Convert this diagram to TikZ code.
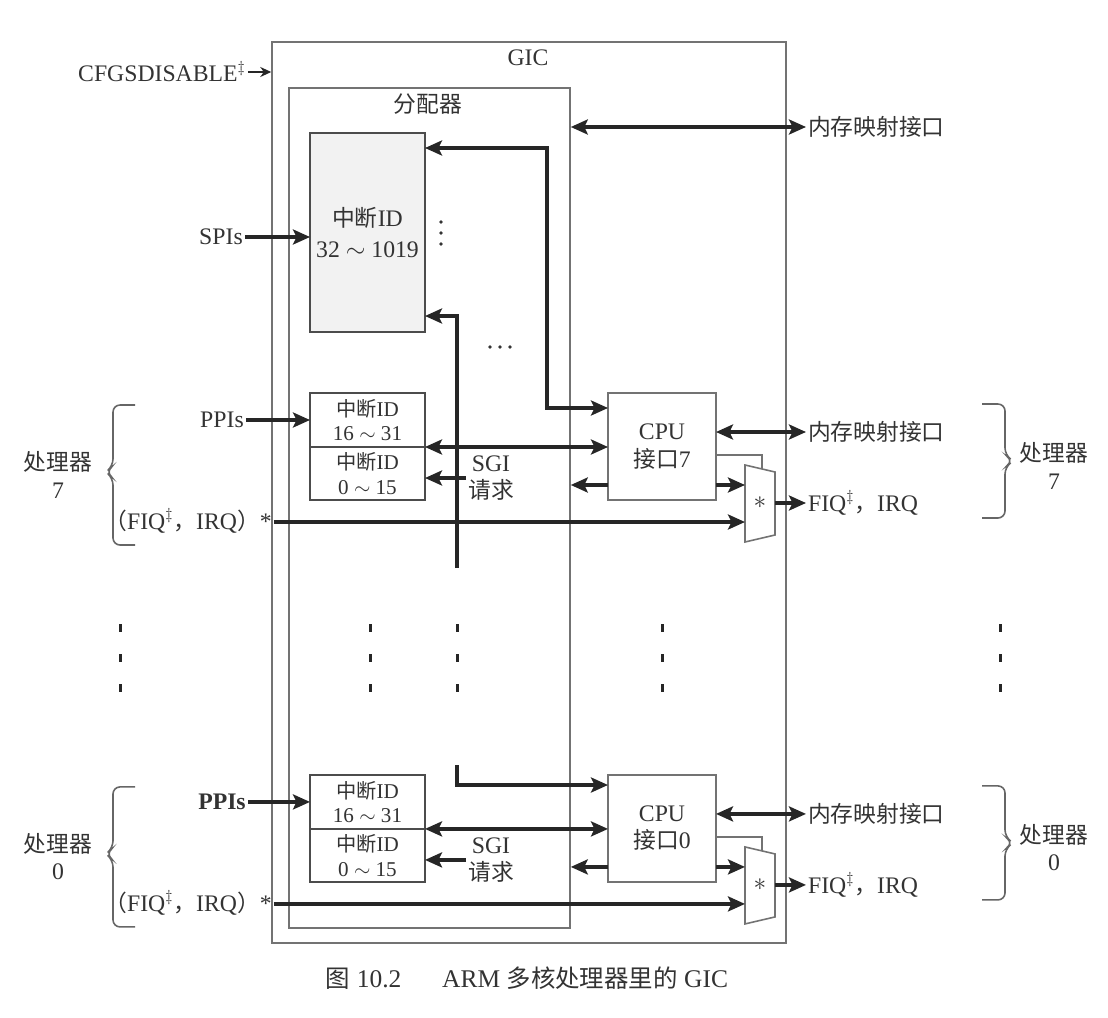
\documentclass[tikz,border=0pt]{standalone}
\usepackage{fontspec}
\setmainfont{Liberation Serif}
\newfontfamily\cjk[Scale=0.96]{Noto Sans CJK SC}
\usetikzlibrary{arrows.meta, calc, positioning}

\begin{document}
\begin{tikzpicture}[
    x=0.02cm, y=-0.02cm,
    font=\fontsize{13.5}{15.5}\selectfont,
    every node/.style={text=black!80},
    frame/.style={
        draw=black!55, line width=0.9pt, inner sep=0pt
    },
    idbox/.style={
        draw=black!70, line width=0.9pt, fill=white,
        minimum width=2.3cm, inner sep=0pt, outer sep=0pt,
        align=center, font=\fontsize{12}{14}\selectfont
    },
    cpubox/.style={
        draw=black!55, line width=0.9pt, fill=white,
        minimum width=2.16cm, minimum height=2.14cm,
        inner sep=0pt, outer sep=0pt, align=center
    },
    sig/.style={
        -{Stealth[length=3.4mm, width=3mm, inset=0.7mm]},
        line width=2pt, black!85
    },
    bisig/.style={
        {Stealth[length=3.4mm, width=3mm, inset=0.7mm]}-{Stealth[length=3.4mm, width=3mm, inset=0.7mm]},
        line width=2pt, black!85
    },
    thinsig/.style={
        -{Stealth[length=2.2mm, width=2mm]}, line width=1.1pt, black!85
    },
    grp/.style={draw=black!60, line width=0.9pt, rounded corners=4pt},
    lbl/.style={inner sep=1pt, align=center}
]
\useasboundingbox (0,0) rectangle (1108,1017);

% GIC and distributor
\node[frame, minimum width=10.28cm, minimum height=18.02cm] (gic) at (529,492.5) {};
\node (gictitle) at (528,58) {GIC};
\node[frame, minimum width=5.62cm, minimum height=16.8cm] (dist) at (429.5,508) {};
\node (disttitle) at (428,104) {\cjk 分配器};

\node[lbl] (cfg) at (162,72) {CFGSDISABLE$^{\ddagger}$};
\draw[thinsig] (cfg.east) -- (gic.west |- cfg.east);

% shared interrupts
\node[idbox, fill=black!5, minimum height=3.98cm,
    font=\fontsize{13.5}{18}\selectfont] (spi) at (367.5,232.5)
    {{\cjk 中断}ID\\32 $\sim$ 1019};
\node[lbl] (spis) at (221,237) {SPIs};
\draw[sig] (spis.east) -- (spi.west |- spis.east);

\node[lbl, anchor=west] (memD) at (806,127) {\cjk 内存映射接口};
\draw[bisig] (dist.east |- memD.west) -- (memD.west);

\foreach \y in {222,233,244}
    \fill[black!80] (441,\y) circle (1.8);
\foreach \x in {490,500,510}
    \fill[black!80] (\x,347) circle (1.8);

% processor 7
\begin{scope}
\node[idbox, minimum height=1.08cm] (ppi7a) at (367.5,420)
    {{\cjk 中断}ID\\16 $\sim$ 31};
\node[idbox, minimum height=1.06cm] (ppi7b) at (367.5,473.5)
    {{\cjk 中断}ID\\0 $\sim$ 15};
\node[cpubox] (cpu7) at (662,446.5) {CPU\\{\cjk 接口}7};

\node[lbl] (ppi7l) at (222,420) {PPIs};
\node[lbl] (sgi7) at (491,478) {SGI\\{\cjk 请求}};
\node[lbl] (fiq7l) at (188,521)
    {{\cjk （}FIQ$^{\ddagger}${\cjk ，}IRQ{\cjk ）}*};
\node[lbl, anchor=west] (fiq7r) at (806,503)
    {FIQ$^{\ddagger}${\cjk ，}IRQ};
\node[lbl, anchor=west] (mem7) at (806,432) {\cjk 内存映射接口};
\node[lbl] (proc7l) at (58,475) {{\cjk 处理器}\\7};
\node[lbl] (proc7r) at (1054,466) {{\cjk 处理器}\\7};

\coordinate (m7a) at (745,465);
\coordinate (m7b) at (775,472);
\coordinate (m7c) at (775,535);
\coordinate (m7d) at (745,542);
\coordinate (m7in) at (745,485);
\coordinate (m7fq) at (745,522);
\coordinate (m7out) at (775,503);
\coordinate (m7sel) at (762,455);
\coordinate (m7top) at (762,469);
\draw[frame, fill=white] (m7a) -- (m7b) -- (m7c) -- (m7d) -- cycle;
\node (mux7) at (760,503) {$\ast$};

\draw[sig] (ppi7l.east) -- (ppi7a.west |- ppi7l.east);
\draw[bisig] (ppi7a.south east) -- (cpu7.west |- ppi7a.south east);
\draw[sig] (sgi7.west) -- (ppi7b.east |- sgi7.west);
\draw[sig] (cpu7.west |- m7in) -- (dist.east |- m7in);
\draw[sig] (cpu7.east |- m7in) -- (m7in);
\draw[frame] (cpu7.east |- m7sel) -- (m7sel) -- (m7top);
\draw[sig] (fiq7l.east |- m7fq) -- (m7fq);
\draw[sig] (m7out) -- (fiq7r.west);
\draw[bisig] (cpu7.east |- mem7.west) -- (mem7.west);

\draw[grp] (135,405) -- (113,405) -- (113,466) -- (106,472)
    -- (113,478) -- (113,545) -- (135,545);
\draw[grp] (982,404) -- (1005,404) -- (1005,455) -- (1013,461)
    -- (1005,467) -- (1005,518) -- (982,518);
\end{scope}

% processor 0
\begin{scope}[yshift=-7.64cm]
\node[idbox, minimum height=1.08cm] (ppi0a) at (367.5,420)
    {{\cjk 中断}ID\\16 $\sim$ 31};
\node[idbox, minimum height=1.06cm] (ppi0b) at (367.5,473.5)
    {{\cjk 中断}ID\\0 $\sim$ 15};
\node[cpubox] (cpu0) at (662,446.5) {CPU\\{\cjk 接口}0};

\node[lbl, font=\fontsize{13.5}{15.5}\selectfont\bfseries] (ppi0l) at (222,420) {PPIs};
\node[lbl] (sgi0) at (491,478) {SGI\\{\cjk 请求}};
\node[lbl] (fiq0l) at (188,521)
    {{\cjk （}FIQ$^{\ddagger}${\cjk ，}IRQ{\cjk ）}*};
\node[lbl, anchor=west] (fiq0r) at (806,503)
    {FIQ$^{\ddagger}${\cjk ，}IRQ};
\node[lbl, anchor=west] (mem0) at (806,432) {\cjk 内存映射接口};
\node[lbl] (proc0l) at (58,475) {{\cjk 处理器}\\0};
\node[lbl] (proc0r) at (1054,466) {{\cjk 处理器}\\0};

\coordinate (m0a) at (745,465);
\coordinate (m0b) at (775,472);
\coordinate (m0c) at (775,535);
\coordinate (m0d) at (745,542);
\coordinate (m0in) at (745,485);
\coordinate (m0fq) at (745,522);
\coordinate (m0out) at (775,503);
\coordinate (m0sel) at (762,455);
\coordinate (m0top) at (762,469);
\draw[frame, fill=white] (m0a) -- (m0b) -- (m0c) -- (m0d) -- cycle;
\node (mux0) at (760,503) {$\ast$};

\draw[sig] (ppi0l.east) -- (ppi0a.west |- ppi0l.east);
\draw[bisig] (ppi0a.south east) -- (cpu0.west |- ppi0a.south east);
\draw[sig] (sgi0.west) -- (ppi0b.east |- sgi0.west);
\draw[sig] (cpu0.west |- m0in) -- (dist.east |- m0in);
\draw[sig] (cpu0.east |- m0in) -- (m0in);
\draw[frame] (cpu0.east |- m0sel) -- (m0sel) -- (m0top);
\draw[sig] (fiq0l.east |- m0fq) -- (m0fq);
\draw[sig] (m0out) -- (fiq0r.west);
\draw[bisig] (cpu0.east |- mem0.west) -- (mem0.west);

\draw[grp] (135,405) -- (113,405) -- (113,466) -- (106,472)
    -- (113,478) -- (113,545) -- (135,545);
\draw[grp] (982,404) -- (1005,404) -- (1005,455) -- (1013,461)
    -- (1005,467) -- (1005,518) -- (982,518);
\end{scope}

% request paths through the distributor
\coordinate (busA) at (547,148);
\coordinate (busB) at (547,408);
\coordinate (busC) at (457,316);
\coordinate (busD) at (457,568);
\coordinate (busE) at (457,765);
\coordinate (busF) at (457,785);
\draw[bisig] (spi.east |- busA) -- (busA) -- (busB) -- (cpu7.west |- busB);
\draw[sig] (busD) -- (busC) -- (spi.east |- busC);
\draw[sig] (busE) -- (busF) -- (cpu0.west |- busF);

% omitted processors
\foreach \x in {120,370,457,662,1000}
    \foreach \y in {628,658,688}
        \fill[black!85] (\x-1.5,\y-4) rectangle (\x+1.5,\y+4);

\node[font=\fontsize{14.5}{16}\selectfont] (caption) at (527,978)
    {{\cjk 图} 10.2\hspace{1.6em}ARM {\cjk 多核处理器里的} GIC};
\end{tikzpicture}
\end{document}
